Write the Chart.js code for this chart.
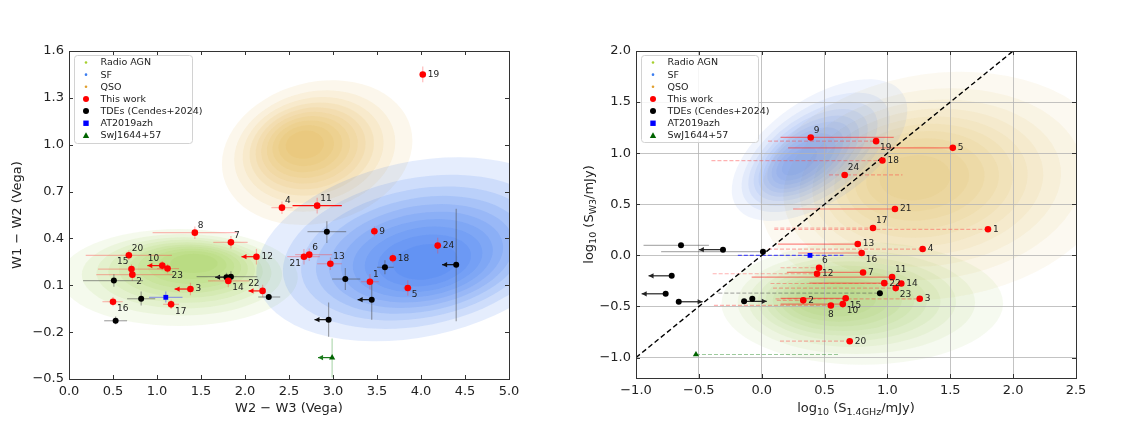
<!DOCTYPE html>
<html>
<head>
<meta charset="utf-8">
<script src="https://cdn.jsdelivr.net/npm/chart.js@4.4.1/dist/chart.umd.min.js"></script>
<style>
  body { margin: 0; background: #fff; }
  #wrap { position: relative; width: 1132px; height: 425px; }
  canvas { position: absolute; top: 0; }
  #left { left: 0; }
  #right { left: 566px; }
</style>
</head>
<body>
<div id="wrap">
  <canvas id="left" width="566" height="425"></canvas>
  <canvas id="right" width="566" height="425"></canvas>
</div>
<script>
// ---------- data: left panel (WISE colours) ----------
const workIds = ['1','2','3','4','5','6','7','8','9','10','11','12','13','14','15','16','17','18','19','20','21','22','23','24'];
const workW23 = [3.42, 0.72, 1.38, 2.42, 3.85, 2.73, 1.84, 1.43, 3.47, 1.06, 2.82, 2.13, 2.97, 1.81, 0.71, 0.50, 1.16, 3.68, 4.02, 0.68, 2.67, 2.20, 1.12, 4.19];
const workW12 = [0.123, 0.168, 0.076, 0.597, 0.083, 0.296, 0.375, 0.437, 0.446, 0.226, 0.61, 0.283, 0.238, 0.128, 0.204, -0.005, -0.022, 0.273, 1.45, 0.292, 0.283, 0.064, 0.207, 0.354];
const workW23Lo = [3.32, 0.31, 1.20, 2.30, 3.80, 2.57, 1.64, 0.95, 3.43, 0.89, 2.54, 1.96, 2.82, 1.58, 0.33, 0.38, 1.07, 3.64, 4.00, 0.19, 2.48, 2.04, 1.00, 4.15];
// null = W3 upper limit (arrow towards the low value)
const workW23Hi = [3.52, 1.18, null, 2.54, 3.90, 2.99, 2.03, 1.91, 3.51, null, 3.10, null, 3.10, 2.05, 1.13, 0.61, 1.25, 3.72, 4.04, 1.17, 2.85, null, 1.25, 4.23];
const workW12Err = [0.05, 0.04, 0.04, 0.04, 0.05, 0.04, 0.04, 0.04, 0.03, 0.03, 0.05, 0.05, 0.04, 0.04, 0.03, 0.03, 0.03, 0.03, 0.05, 0.03, 0.05, 0.04, 0.03, 0.05];

const tdeW23 = [2.93, 0.51, 0.82, 0.53, 1.79, 1.84, 2.27, 3.14, 3.59, 3.44, 2.95, 4.40];
const tdeW12 = [0.443, 0.130, 0.014, -0.127, 0.152, 0.155, 0.025, 0.140, 0.215, 0.008, -0.120, 0.232];
const tdeW23Lo = [2.71, 0.16, 0.66, 0.40, 1.66, 1.45, 2.15, 2.99, 3.50, 3.28, 2.79, 4.24];
const tdeW23Hi = [3.15, 0.84, 0.98, 0.66, null, 2.14, 2.40, 3.31, 3.69, null, null, null];
const tdeW12Lo = [0.37, 0.09, -0.03, -0.15, 0.12, 0.12, 0.005, 0.07, 0.17, -0.12, -0.23, -0.13];
const tdeW12Hi = [0.51, 0.17, 0.06, -0.10, 0.18, 0.19, 0.045, 0.21, 0.26, 0.134, -0.01, 0.59];

const azhW23 = [1.10], azhW12 = [0.023], azhW23Lo = [0.91], azhW23Hi = [1.29], azhW12Lo = [-0.01], azhW12Hi = [0.06];
const swjW23 = [2.99], swjW12 = [-0.363], swjW23Lim = [2.83], swjW12Lo = [-0.49], swjW12Hi = [-0.24];

// ---------- data: right panel (fluxes) ----------
const workS14 = [1.80, 0.33, 1.257, 1.28, 1.52, 0.456, 0.806, 0.55, 0.39, 0.645, 1.037, 0.44, 0.764, 1.11, 0.668, 0.795, 0.885, 0.96, 0.91, 0.70, 1.06, 0.975, 1.066, 0.66];
const workSW3 = [0.255, -0.44, -0.425, 0.062, 1.052, -0.121, -0.167, -0.49, 1.154, -0.477, -0.213, -0.18, 0.111, -0.275, -0.42, 0.023, 0.268, 0.928, 1.118, -0.84, 0.454, -0.272, -0.32, 0.787];
const workS14Lo = [0.10, 0.12, 0.11, 0.05, 0.21, 0.15, 0.20, -0.38, 0.15, 0.15, -0.08, -0.39, 0.13, 0.07, 0.15, 0.29, 0.10, -0.40, 0.05, 0.145, 0.25, 0.38, 0.09, 0.535];
const workS14Hi = [1.80, 0.33, 1.257, 1.28, 1.52, 0.456, 0.806, 0.55, 1.05, 0.645, 1.037, 0.44, 0.764, 1.11, 0.668, 0.795, 0.885, 0.96, 0.91, 0.70, 1.06, 0.975, 1.066, 1.12];
const workS14Dashed = ['1','2','3','4','6','8','12','14','17','18','19','20','23','24'];

const tdeS14 = [-0.642, -0.308, 0.01, -0.716, -0.764, -0.66, -0.14, -0.075, 0.94];
const tdeSW3 = [0.098, 0.056, 0.036, -0.2, -0.376, -0.454, -0.45, -0.425, -0.37];
const tdeS14Lo = [-0.94, null, -0.80, null, null, null, null, null, -0.345];
const tdeS14Hi = [-0.42, null, 0.01, null, null, null, null, null, 0.94];
const tdeS14Lim = [null, -0.50, null, -0.90, -0.955, -0.47, 0.04, null, null];

const azhS14 = [0.384], azhSW3 = [0.0], azhS14Lo = [-0.19], azhS14Hi = [0.65];
const swjS14 = [-0.523], swjSW3 = [-0.97], swjS14Hi = [0.62];
const oneToOne = [-1, 2];

// ---------- axes ----------
const leftXTicks = [0, 0.5, 1, 1.5, 2, 2.5, 3, 3.5, 4, 4.5, 5];
const leftYTicks = [-0.5, -0.2, 0.1, 0.4, 0.7, 1.0, 1.3, 1.6];
const rightXTicks = [-1, -0.5, 0, 0.5, 1, 1.5, 2, 2.5];
const rightYTicks = [-1, -0.5, 0, 0.5, 1, 1.5, 2];

// density clouds of the comparison samples
// outer: [centre x, centre y, spread x, spread y, tilt deg], core: [centre x, centre y, tilt deg]
const leftDensity = [
  { pop: 'Radio AGN', outer: [1.25, 0.15, 1.35, 0.31, 0], core: [1.42, 0.24, 0] },
  { pop: 'QSO', outer: [2.82, 0.95, 1.10, 0.45, 15], core: [2.68, 1.0, 8] },
  { pop: 'SF', outer: [3.95, 0.33, 1.85, 0.56, 12], core: [4.05, 0.25, 8] },
];
const rightDensity = [
  { pop: 'QSO', outer: [1.40, 0.68, 1.42, 1.10, 8], core: [1.22, 0.76, 5] },
  { pop: 'Radio AGN', outer: [0.80, -0.47, 1.12, 0.60, 0], core: [0.56, -0.42, 0] },
  { pop: 'SF', outer: [0.46, 1.03, 0.80, 0.50, 34.5], core: [0.30, 0.92, 34.5] },
];

// ---------- style ----------
const FONT = "'DejaVu Sans', 'Noto Sans', sans-serif";
const POP_RGB = { 'Radio AGN': [140, 192, 50], SF: [45, 108, 238], QSO: [218, 165, 55] };
const RIGHT_SF_RGB = [70, 118, 225];
const RED = 'rgba(255,0,0,0.95)';
const RED_FAINT = 'rgba(255,60,60,0.35)';
const GREY = 'rgba(80,80,80,0.5)';
const LABEL_OFF = { e: [5, 0, 'left'], ne: [3, -7, 'left'], se: [4, 7, 'left'], nw: [-3, -7, 'right'], sw: [-3, 7, 'right'], s: [0, 9, 'center'] };
const leftLabelPos = ['ne','se','e','ne','se','ne','ne','ne','e','nw','ne','e','ne','se','nw','se','se','e','e','ne','sw','nw','se','e'];
const rightLabelPos = ['e','e','e','e','e','ne','e','s','ne','se','ne','e','e','e','se','se','ne','e','se','e','e','e','se','ne'];
const legendItems = [
  ['Radio AGN', 'dot', '#a6cf2e'],
  ['SF', 'dot', '#3b7df0'],
  ['QSO', 'dot', '#e0a030'],
  ['This work', 'circle', '#ff0000'],
  ['TDEs (Cendes+2024)', 'circle', '#000000'],
  ['AT2019azh', 'rect', '#0000ff'],
  ['SwJ1644+57', 'triangle', '#006400'],
];

const fmt = v => (v < 0 ? '\u2212' : '') + Math.abs(v).toFixed(1);
const lerp = (a, b, t) => a + (b - a) * t;

function axis(min, max, ticks, size, isX, grid) {
  return {
    type: 'linear', min, max, position: isX ? 'bottom' : 'left',
    afterBuildTicks: s => { s.ticks = ticks.map(v => ({ value: v })); },
    afterFit: s => { if (isX) s.height = size; else s.width = size; },
    ticks: { callback: v => fmt(v), font: { family: FONT, size: 13 }, color: '#222', padding: 5, autoSkip: false, maxRotation: 0 },
    grid: { display: grid, color: '#b4b4b4', lineWidth: 0.8, drawTicks: false },
    border: { display: false },
  };
}

// filled contour look: nested ellipses spaced like the levels of a gaussian density
const LEVELS = 10;
const levelScale = [];
for (let i = 1; i <= LEVELS; i++) levelScale.push(Math.sqrt(-2 * Math.log(i / (LEVELS + 1))));

function densityPlugin(clouds, alpha, rgbs) {
  return {
    id: 'density',
    beforeDraw(chart) {
      const { ctx, chartArea: a, scales: { x, y } } = chart;
      ctx.save();
      ctx.beginPath();
      ctx.rect(a.left, a.top, a.right - a.left, a.bottom - a.top);
      ctx.clip();
      const s0 = levelScale[0], sN = levelScale[LEVELS - 1] / s0;
      clouds.forEach(c => {
        const [r, g, b] = rgbs[c.pop];
        ctx.fillStyle = `rgba(${r},${g},${b},${alpha[c.pop]})`;
        levelScale.forEach(s => {
          const f = s / s0;
          const t = (1 - f) / (1 - sN);
          const mx = lerp(c.outer[0], c.core[0], t), my = lerp(c.outer[1], c.core[1], t);
          const tilt = lerp(c.outer[4], c.core[2], t);
          const cx = x.getPixelForValue(mx), cy = y.getPixelForValue(my);
          const rx = Math.abs(x.getPixelForValue(mx + c.outer[2] * f) - cx);
          const ry = Math.abs(y.getPixelForValue(my + c.outer[3] * f) - cy);
          ctx.beginPath();
          ctx.ellipse(cx, cy, rx, ry, -tilt * Math.PI / 180, 0, Math.PI * 2);
          ctx.fill();
        });
      });
      ctx.restore();
    }
  };
}

function drawArrowHead(ctx, x1, y1, x2, y2, color) {
  const ang = Math.atan2(y2 - y1, x2 - x1);
  const L = 5, W = 2.6;
  ctx.fillStyle = color;
  ctx.beginPath();
  ctx.moveTo(x2, y2);
  ctx.lineTo(x2 - L * Math.cos(ang) + W * Math.sin(ang), y2 - L * Math.sin(ang) - W * Math.cos(ang));
  ctx.lineTo(x2 - L * Math.cos(ang) - W * Math.sin(ang), y2 - L * Math.sin(ang) + W * Math.cos(ang));
  ctx.closePath();
  ctx.fill();
}

function barsPlugin(bars) {
  return {
    id: 'errorbars',
    beforeDatasetsDraw(chart) {
      const { ctx, scales: { x, y } } = chart;
      ctx.save();
      bars.forEach(b => {
        const x1 = x.getPixelForValue(b.x1), y1 = y.getPixelForValue(b.y1);
        const x2 = x.getPixelForValue(b.x2), y2 = y.getPixelForValue(b.y2);
        ctx.strokeStyle = b.color;
        ctx.lineWidth = b.lw || 1.2;
        ctx.setLineDash(b.dash || []);
        ctx.beginPath();
        ctx.moveTo(x1, y1);
        ctx.lineTo(x2, y2);
        ctx.stroke();
        if (b.arrow) drawArrowHead(ctx, x1, y1, x2, y2, b.color);
      });
      ctx.restore();
    }
  };
}

function labelsPlugin(xs, ys, ids, pos) {
  return {
    id: 'pointlabels',
    afterDatasetsDraw(chart) {
      const { ctx, scales: { x, y } } = chart;
      ctx.save();
      ctx.font = `9px ${FONT}`;
      ctx.fillStyle = '#222';
      ctx.textBaseline = 'middle';
      ids.forEach((id, i) => {
        const o = LABEL_OFF[pos[i]];
        ctx.textAlign = o[2];
        ctx.fillText(id, x.getPixelForValue(xs[i]) + o[0], y.getPixelForValue(ys[i]) + o[1]);
      });
      ctx.restore();
    }
  };
}

function drawRich(ctx, parts, cx, cy, rot) {
  const big = `13px ${FONT}`, small = `9.5px ${FONT}`;
  let w = 0;
  parts.forEach(([t, sub]) => { ctx.font = sub ? small : big; w += ctx.measureText(t).width; });
  ctx.save();
  ctx.translate(cx, cy);
  ctx.rotate(rot);
  ctx.fillStyle = '#222';
  ctx.textBaseline = 'middle';
  ctx.textAlign = 'left';
  let px = -w / 2;
  parts.forEach(([t, sub]) => {
    ctx.font = sub ? small : big;
    ctx.fillText(t, px, sub ? 4 : 0);
    px += ctx.measureText(t).width;
  });
  ctx.restore();
}

function framePlugin(xTicks, yTicks, xTitle, yTitle, yTitleX, legendBox) {
  return {
    id: 'frame',
    afterDraw(chart) {
      const { ctx, chartArea: a, scales: { x, y } } = chart;
      ctx.save();
      ctx.strokeStyle = '#333';
      ctx.lineWidth = 1;
      ctx.strokeRect(a.left + 0.5, a.top + 0.5, a.right - a.left, a.bottom - a.top);
      ctx.beginPath();
      xTicks.forEach(v => {
        const p = Math.round(x.getPixelForValue(v)) + 0.5;
        ctx.moveTo(p, a.bottom); ctx.lineTo(p, a.bottom - 4);
        ctx.moveTo(p, a.top); ctx.lineTo(p, a.top + 4);
      });
      yTicks.forEach(v => {
        const p = Math.round(y.getPixelForValue(v)) + 0.5;
        ctx.moveTo(a.left, p); ctx.lineTo(a.left + 4, p);
        ctx.moveTo(a.right, p); ctx.lineTo(a.right - 4, p);
      });
      ctx.stroke();

      drawRich(ctx, xTitle, (a.left + a.right) / 2, 409, 0);
      drawRich(ctx, yTitle, yTitleX, (a.top + a.bottom) / 2, -Math.PI / 2);

      // legend
      const b = legendBox;
      ctx.fillStyle = 'rgba(255,255,255,0.85)';
      ctx.strokeStyle = '#d2d2d2';
      ctx.beginPath();
      ctx.roundRect(b.x + 0.5, b.y + 0.5, b.w, b.h, 3);
      ctx.fill();
      ctx.stroke();
      ctx.font = `9.5px ${FONT}`;
      ctx.textBaseline = 'middle';
      ctx.textAlign = 'left';
      legendItems.forEach(([txt, kind, col], i) => {
        const my = b.y + 7.5 + i * 12.15, mx = b.x + 12;
        ctx.fillStyle = col;
        ctx.beginPath();
        if (kind === 'dot') ctx.arc(mx, my, 1.3, 0, Math.PI * 2);
        else if (kind === 'circle') ctx.arc(mx, my, 3, 0, Math.PI * 2);
        else if (kind === 'rect') ctx.rect(mx - 2.7, my - 2.7, 5.4, 5.4);
        else { ctx.moveTo(mx, my - 3.2); ctx.lineTo(mx + 3.2, my + 2.6); ctx.lineTo(mx - 3.2, my + 2.6); ctx.closePath(); }
        ctx.fill();
        ctx.fillStyle = '#222';
        ctx.fillText(txt, b.x + 26.5, my + 0.5);
      });
      ctx.restore();
    }
  };
}

const pts = (xs, ys) => xs.map((v, i) => ({ x: v, y: ys[i] }));

function pointSets(xsW, ysW, xsT, ysT, xsA, ysA, xsS, ysS) {
  return [
    { data: pts(xsW, ysW), pointRadius: 3.3, pointBackgroundColor: '#ff0000', pointBorderWidth: 0 },
    { data: pts(xsT, ysT), pointRadius: 3, pointBackgroundColor: '#000', pointBorderWidth: 0 },
    { data: pts(xsA, ysA), pointStyle: 'rect', pointRadius: 3.4, pointBackgroundColor: '#0000ff', pointBorderWidth: 0 },
    { data: pts(xsS, ysS), pointStyle: 'triangle', pointRadius: 3.6, pointBackgroundColor: '#006400', pointBorderWidth: 0 },
  ];
}

const baseOpts = {
  responsive: false,
  animation: false,
  events: [],
  plugins: { legend: { display: false }, tooltip: { enabled: false } },
};

// ---------- left panel ----------
const leftBars = [];
workIds.forEach((id, i) => {
  const x = workW23[i], y = workW12[i];
  leftBars.push({ x1: x, y1: y - workW12Err[i], x2: x, y2: y + workW12Err[i], color: RED_FAINT });
  if (workW23Hi[i] === null) leftBars.push({ x1: x, y1: y, x2: workW23Lo[i], y2: y, color: RED, arrow: true });
  else leftBars.push({ x1: workW23Lo[i], y1: y, x2: workW23Hi[i], y2: y, color: id === '11' ? RED : RED_FAINT });
});
tdeW23.forEach((x, i) => {
  const y = tdeW12[i];
  leftBars.push({ x1: x, y1: tdeW12Lo[i], x2: x, y2: tdeW12Hi[i], color: GREY });
  if (tdeW23Hi[i] === null) leftBars.push({ x1: x, y1: y, x2: tdeW23Lo[i], y2: y, color: '#111', arrow: true });
  else leftBars.push({ x1: tdeW23Lo[i], y1: y, x2: tdeW23Hi[i], y2: y, color: GREY });
});
leftBars.push({ x1: azhW23Lo[0], y1: azhW12[0], x2: azhW23Hi[0], y2: azhW12[0], color: 'rgba(60,60,255,0.45)' });
leftBars.push({ x1: azhW23[0], y1: azhW12Lo[0], x2: azhW23[0], y2: azhW12Hi[0], color: 'rgba(60,60,255,0.45)' });
leftBars.push({ x1: swjW23[0], y1: swjW12Lo[0], x2: swjW23[0], y2: swjW12Hi[0], color: 'rgba(0,128,0,0.3)' });
leftBars.push({ x1: swjW23[0], y1: swjW12[0], x2: swjW23Lim[0], y2: swjW12[0], color: '#1a7a1a', arrow: true });

new Chart(document.getElementById('left'), {
  type: 'scatter',
  data: { datasets: pointSets(workW23, workW12, tdeW23, tdeW12, azhW23, azhW12, swjW23, swjW12) },
  options: {
    ...baseOpts,
    layout: { padding: { top: 51, right: 57, left: 0, bottom: 0 } },
    scales: { x: axis(0, 5, leftXTicks, 46, true, false), y: axis(-0.5, 1.6, leftYTicks, 69, false, false) },
  },
  plugins: [
    densityPlugin(leftDensity, { 'Radio AGN': 0.085, QSO: 0.095, SF: 0.12 }, POP_RGB),
    barsPlugin(leftBars),
    labelsPlugin(workW23, workW12, workIds, leftLabelPos),
    framePlugin(leftXTicks, leftYTicks, [['W2 \u2212 W3 (Vega)', 0]], [['W1 \u2212 W2 (Vega)', 0]], 18, { x: 74, y: 55, w: 118, h: 88 }),
  ],
});

// ---------- right panel ----------
const rightBars = [];
workIds.forEach((id, i) => {
  const dashed = workS14Dashed.includes(id);
  rightBars.push({ x1: workS14Lo[i], y1: workSW3[i], x2: workS14Hi[i], y2: workSW3[i],
    color: dashed ? 'rgba(255,60,60,0.4)' : 'rgba(255,40,40,0.55)', dash: dashed ? [4, 2] : null });
});
tdeS14.forEach((x, i) => {
  const y = tdeSW3[i];
  if (tdeS14Lo[i] !== null) rightBars.push({ x1: tdeS14Lo[i], y1: y, x2: tdeS14Hi[i], y2: y, color: 'rgba(80,80,80,0.45)', dash: i === 8 ? [4, 2] : null });
  if (tdeS14Lim[i] !== null) rightBars.push({ x1: x, y1: y, x2: tdeS14Lim[i], y2: y, color: '#222', arrow: true });
});
rightBars.push({ x1: azhS14Lo[0], y1: azhSW3[0], x2: azhS14Hi[0], y2: azhSW3[0], color: 'rgba(40,40,255,0.75)', dash: [4, 2] });
rightBars.push({ x1: swjS14[0], y1: swjSW3[0], x2: swjS14Hi[0], y2: swjSW3[0], color: 'rgba(60,150,60,0.5)', dash: [4, 2] });

const rightSets = pointSets(workS14, workSW3, tdeS14, tdeSW3, azhS14, azhSW3, swjS14, swjSW3);
rightSets.push({ type: 'line', data: pts(oneToOne, oneToOne), borderColor: '#000', borderWidth: 1.4, borderDash: [5, 3], pointRadius: 0 });

new Chart(document.getElementById('right'), {
  type: 'scatter',
  data: { datasets: rightSets },
  options: {
    ...baseOpts,
    layout: { padding: { top: 51, right: 56, left: 0, bottom: 0 } },
    scales: { x: axis(-1, 2.5, rightXTicks, 47, true, true), y: axis(-1.2, 2.0, rightYTicks, 70, false, true) },
  },
  plugins: [
    densityPlugin(rightDensity, { 'Radio AGN': 0.075, QSO: 0.07, SF: 0.08 }, { ...POP_RGB, SF: RIGHT_SF_RGB }),
    barsPlugin(rightBars),
    labelsPlugin(workS14, workSW3, workIds, rightLabelPos),
    framePlugin(rightXTicks, rightYTicks,
      [['log', 0], ['10', 1], [' (S', 0], ['1.4GHz', 1], ['/mJy)', 0]],
      [['log', 0], ['10', 1], [' (S', 0], ['W3', 1], ['/mJy)', 0]], 24, { x: 75, y: 55, w: 117, h: 87 }),
  ],
});
</script>
</body>
</html>
